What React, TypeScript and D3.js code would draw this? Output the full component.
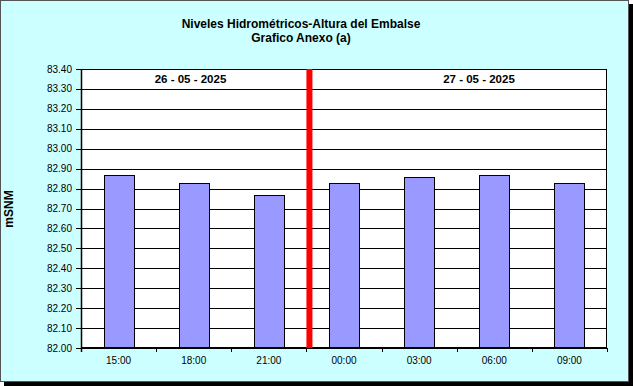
import React from "react";
import * as d3 from "d3";

const categories = ["15:00", "18:00", "21:00", "00:00", "03:00", "06:00", "09:00"];
const values = [82.87, 82.83, 82.77, 82.83, 82.86, 82.87, 82.83];
const yTicks = [82.0, 82.1, 82.2, 82.3, 82.4, 82.5, 82.6, 82.7, 82.8, 82.9, 83.0, 83.1, 83.2, 83.3, 83.4];
const dateLabels = ["26 - 05 - 2025", "27 - 05 - 2025"];
const titleLines = ["Niveles Hidrométricos-Altura del Embalse", "Grafico Anexo (a)"];
const yLabel = "mSNM";
const dividerIndex = 3;

const W = 633;
const H = 386;
const plot = { left: 81, right: 607, top: 69, bottom: 348 };
const FONT = "'Liberation Sans', Arial, sans-serif";

export default function App() {
  const x = d3.scaleBand<string>().domain(categories).range([plot.left, plot.right]).paddingInner(0.6).paddingOuter(0.3);
  const xb = d3.scaleBand<string>().domain(categories).range([plot.left, plot.right]);
  const y = d3.scaleLinear().domain([82.0, 83.4]).range([plot.bottom, plot.top]);
  const crisp = (v: number) => Math.round(v) + 0.5;
  const step = xb.step();
  const divX = plot.left + step * dividerIndex + 3;

  return (
    <svg width={W} height={H} style={{ position: "absolute", left: 0, top: 0 }}>
      <rect x={4} y={4} width={W - 4} height={H - 4} fill="#000" />
      <rect x={0.5} y={0.5} width={628} height={381} fill="#CCFFFF" stroke="#555" strokeWidth={1} />
      {titleLines.map((t, i) => (
        <text key={i} x={301} y={28 + i * 14} textAnchor="middle" fontFamily={FONT} fontWeight="bold" fontSize={12} fill="#000">
          {t}
        </text>
      ))}
      <rect x={plot.left} y={plot.top} width={plot.right - plot.left} height={plot.bottom - plot.top} fill="#fff" />
      {yTicks.map((t, i) => (
        <g key={i}>
          <line x1={plot.left} x2={plot.right} y1={crisp(y(t))} y2={crisp(y(t))} stroke="#000" strokeWidth={1} />
          <line x1={plot.left - 5} x2={plot.left} y1={crisp(y(t))} y2={crisp(y(t))} stroke="#000" strokeWidth={1} />
          <text x={72} y={y(t) + 3.5} textAnchor="end" fontFamily={FONT} fontSize={10} fill="#000">
            {t.toFixed(2)}
          </text>
        </g>
      ))}
      {categories.map((c, i) => (
        <rect
          key={c}
          x={Math.round(x(c)!) + 0.5}
          y={crisp(y(values[i]))}
          width={Math.round(x.bandwidth())}
          height={plot.bottom - crisp(y(values[i]))}
          fill="#9999FF"
          stroke="#000"
          strokeWidth={1}
        />
      ))}
      <rect x={plot.left + 0.5} y={plot.top + 0.5} width={plot.right - plot.left - 1} height={plot.bottom - plot.top - 1} fill="none" stroke="#000" strokeWidth={1} />
      <line x1={plot.left + 0.5} x2={plot.left + 0.5} y1={plot.top} y2={plot.bottom + 4} stroke="#000" strokeWidth={1.5} />
      {d3.range(categories.length + 1).map((i) => (
        <line key={i} x1={crisp(plot.left + i * step)} x2={crisp(plot.left + i * step)} y1={plot.bottom} y2={plot.bottom + 4} stroke="#000" strokeWidth={1} />
      ))}
      {categories.map((c) => (
        <text key={c} x={xb(c)! + step / 2} y={364} textAnchor="middle" fontFamily={FONT} fontSize={10} fill="#000">
          {c}
        </text>
      ))}
      <line x1={divX} x2={divX} y1={plot.top} y2={plot.bottom} stroke="#FF0000" strokeWidth={6} />
      {dateLabels.map((d, i) => {
        const cx = i === 0 ? 190.5 : 479;
        return (
          <text key={d} x={cx} y={83} textAnchor="middle" fontFamily={FONT} fontWeight="bold" fontSize={11.5} fill="#000">
            {d}
          </text>
        );
      })}
      <text transform={`translate(13,209) rotate(-90)`} textAnchor="middle" fontFamily={FONT} fontWeight="bold" fontSize={12} fill="#000">
        {yLabel}
      </text>
    </svg>
  );
}
